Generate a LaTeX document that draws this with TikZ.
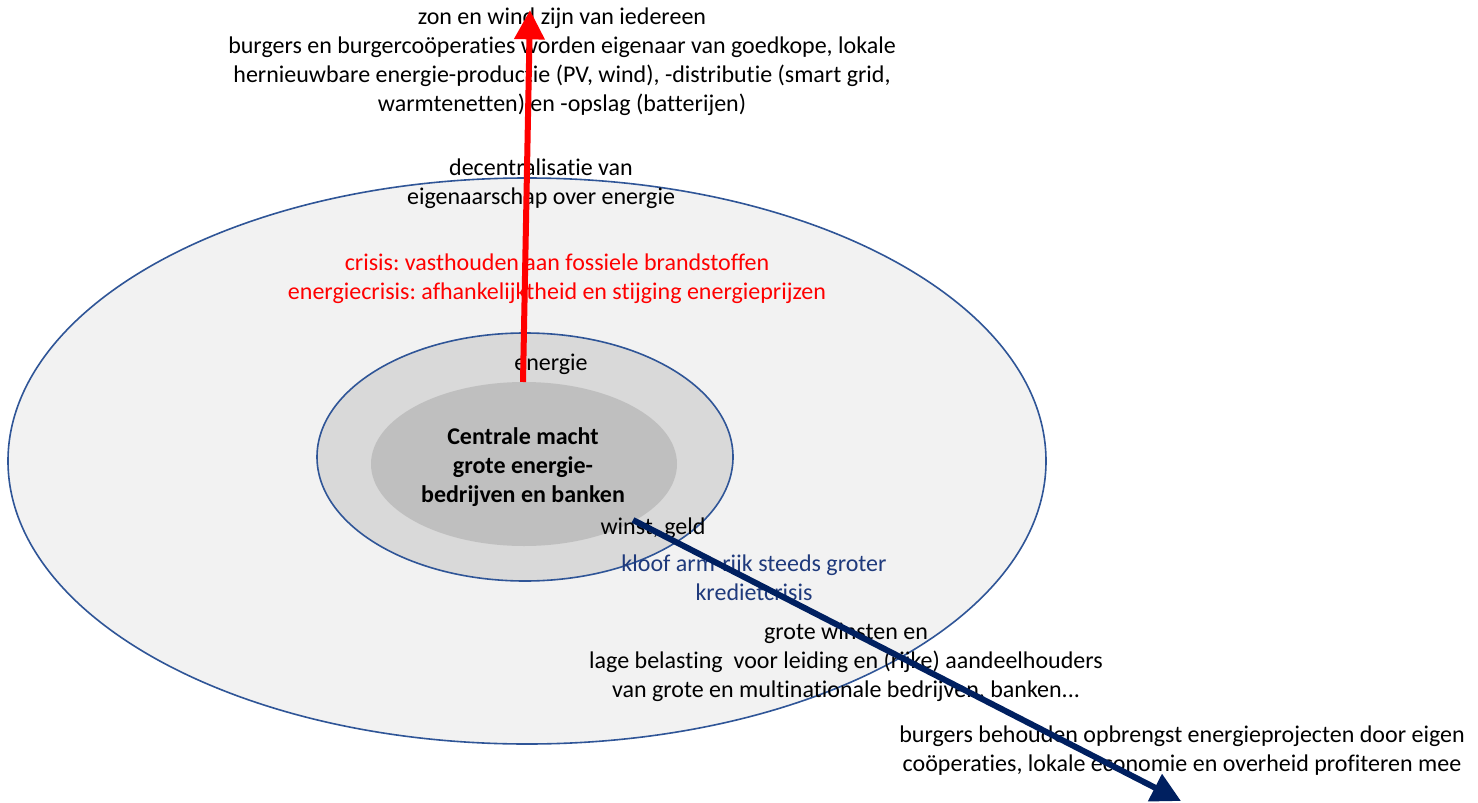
\documentclass[tikz,border=0pt]{standalone}
\usepackage{fontspec}
\setmainfont{Carlito}[Ligatures=CommonOff]
\usetikzlibrary{arrows.meta,shapes.geometric}
\definecolor{rimblue}{HTML}{2F5597}
\definecolor{navyarrow}{HTML}{002060}
\definecolor{txtblue}{HTML}{1F3A7C}
\definecolor{fillouter}{HTML}{F2F2F2}
\definecolor{fillmiddle}{HTML}{D9D9D9}
\definecolor{fillcore}{HTML}{BFBFBF}
\frenchspacing
\begin{document}
\begin{tikzpicture}[x=0.75pt,y=-0.75pt,
  ring/.style={ellipse, draw=rimblue, line width=1.2pt, inner sep=0},
  txt/.style={font=\fontsize{18}{21.75}\selectfont, align=center, inner sep=0, text=black},
  bigarrow/.style={line width=4.5pt, -{Triangle[length=22pt,width=22pt]}}
]
\useasboundingbox (0,0) rectangle (1478,803);
\fill[white] (0,0) rectangle (1478,803);

\node[ring, fill=fillouter, minimum width=778.5pt, minimum height=424.5pt] (outer) at (527,461) {};
\node[ring, fill=fillmiddle, minimum width=312pt, minimum height=186pt] (middle) at (525,457) {};
\node[ellipse, fill=fillcore, inner sep=0, minimum width=229.5pt, minimum height=123pt] (core) at (524,464) {};
\node[txt, font=\bfseries\fontsize{18}{21.75}\selectfont] (coretext) at (523,467)
      {Centrale macht\\grote energie-\\bedrijven en banken};

\node[txt] (top) at (562,61.5) {zon en wind zijn van iedereen\\burgers en burgercoöperaties worden eigenaar van goedkope, lokale\\hernieuwbare energie-productie (PV, wind), -distributie (smart grid,\\warmtenetten) en -opslag (batterijen)};
\node[txt] (decen) at (541,184) {decentralisatie van\\eigenaarschap over energie};
\node[txt, text=red] (crisis) at (557,279) {crisis: vasthouden aan fossiele brandstoffen\\energiecrisis: afhankelijktheid en stijging energieprijzen};
\node[txt] (energie) at (551,364) {energie};
\node[txt] (winst) at (653,528) {winst, geld};
\node[txt, text=txtblue] (kloof) at (754,578) {kloof arm-rijk steeds groter\\kredietcrisis};
\node[txt] (grote) at (846,662.5) {grote winsten en\\lage belasting\ \ voor leiding en (rijke) aandeelhouders\\van grote en multinationale bedrijven, banken...};
\node[txt] (burgers) at (1182,751) {burgers behouden opbrengst energieprojecten door eigen\\coöperaties, lokale economie en overheid profiteren mee};

\coordinate (redstart) at (523,382);
\coordinate (redend) at (530,10);
\coordinate (bluestart) at (633,520);
\coordinate (blueend) at (1181,801);
\draw[bigarrow, red] (redstart) -- (redend);
\draw[bigarrow, navyarrow] (bluestart) -- (blueend);
\end{tikzpicture}
\end{document}
